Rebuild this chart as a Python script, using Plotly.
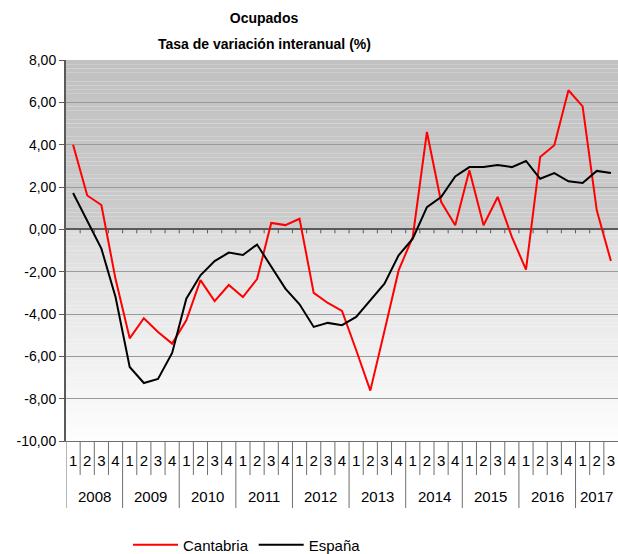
import numpy as np
import plotly.graph_objects as go

years = ["2008", "2009", "2010", "2011", "2012", "2013", "2014", "2015", "2016", "2017"]
quarters_per_year = [4, 4, 4, 4, 4, 4, 4, 4, 4, 3]
quarter_labels = [str(q + 1) for n in quarters_per_year for q in range(n)]

cantabria = [4.0, 1.6, 1.15, -2.35,
             -5.15, -4.2, -4.85, -5.4,
             -4.3, -2.4, -3.39, -2.63,
             -3.2, -2.35, 0.3, 0.2,
             0.5, -3.0, -3.48, -3.85,
             -5.7, -7.62, -4.8, -1.94,
             -0.36, 4.6, 1.3, 0.19,
             2.79, 0.19, 1.53, -0.36,
             -1.9, 3.42, 3.97, 6.57,
             5.81, 0.9, -1.5]
espana = [1.72, 0.4, -0.91, -3.2,
          -6.5, -7.26, -7.07, -5.84,
          -3.28, -2.17, -1.5, -1.1,
          -1.21, -0.72, -1.75, -2.8,
          -3.54, -4.61, -4.42, -4.53,
          -4.14, -3.35, -2.57, -1.23,
          -0.44, 1.05, 1.53, 2.5,
          2.94, 2.94, 3.04, 2.94,
          3.23, 2.39, 2.66, 2.27,
          2.19, 2.76, 2.66]

y_ticks = [-10, -8, -6, -4, -2, 0, 2, 4, 6, 8]
y_tick_text = [f"{v:.2f}".replace(".", ",") for v in y_ticks]

n = len(quarter_labels)
x = list(range(n))
ymin, ymax = -10, 8

AX = "#5a5a5a"
FONT = "Liberation Sans, Arial, sans-serif"

W, H = 618, 554
ML, MT, MB = 66, 60, 113
plot_h = H - MT - MB
plot_w = W - ML

fig = go.Figure()
fig.add_trace(go.Scatter(x=x, y=cantabria, mode="lines", name="Cantabria",
                         line=dict(color="#ff0000", width=2)))
fig.add_trace(go.Scatter(x=x, y=espana, mode="lines", name="España",
                         line=dict(color="#000000", width=2)))

shapes = []


def grey(v):
    v = int(round(v))
    return f"rgb({v},{v},{v})"


nb = 40
edges = np.linspace(0, ymax, nb + 1)
for i in range(nb):
    t = i / (nb - 1)
    c = 204 - (204 - 193) * t
    shapes.append(dict(type="rect", xref="paper", yref="y", x0=0, x1=1,
                       y0=edges[i], y1=edges[i + 1], fillcolor=grey(c),
                       line=dict(width=0), layer="below"))
nb2 = 50
edges2 = np.linspace(ymin, 0, nb2 + 1)
for i in range(nb2):
    t = i / (nb2 - 1)
    c = 253 - (253 - 220) * t
    shapes.append(dict(type="rect", xref="paper", yref="y", x0=0, x1=1,
                       y0=edges2[i], y1=edges2[i + 1], fillcolor=grey(c),
                       line=dict(width=0), layer="below"))

year_starts = set(np.cumsum([0] + quarters_per_year[:-1]).tolist())
for b in range(n):
    is_year = b in year_starts
    shapes.append(dict(type="line", xref="x", yref="paper", ysizemode="pixel",
                       yanchor=0, x0=b - 0.5, x1=b - 0.5, y0=0,
                       y1=-67 if is_year else -34,
                       line=dict(color="#6e6e6e", width=1)))
    if b > 0:
        shapes.append(dict(type="line", xref="x", yref="y", ysizemode="pixel",
                           yanchor=0, x0=b - 0.5, x1=b - 0.5, y0=0, y1=-4,
                           line=dict(color=AX, width=1)))

annotations = []
starts = np.cumsum([0] + quarters_per_year[:-1])
for yr, s, k in zip(years, starts, quarters_per_year):
    annotations.append(dict(x=s + (k - 1) / 2, y=-55 / plot_h, xref="x", yref="paper",
                            text=yr, showarrow=False,
                            font=dict(size=15, color="#000", family=FONT),
                            yanchor="middle"))

annotations.append(dict(text="<b>Tasa de variación interanual (%)</b>",
                        xref="paper", yref="paper",
                        x=(264 - ML) / plot_w, y=1 + (MT - 44) / plot_h,
                        showarrow=False, xanchor="center", yanchor="middle",
                        font=dict(size=14, color="#000", family=FONT)))

fig.update_layout(
    width=W, height=H,
    margin=dict(l=ML, r=0, t=MT, b=MB, pad=0, autoexpand=False),
    paper_bgcolor="white",
    plot_bgcolor="white",
    font=dict(family=FONT, color="#000"),
    title=dict(text="<b>Ocupados</b>", x=264 / W, xanchor="center",
               y=1 - 18 / H, yanchor="middle", yref="container",
               font=dict(size=14, color="#000", family=FONT)),
    shapes=shapes,
    annotations=annotations,
    showlegend=True,
    legend=dict(orientation="h", x=(128 - ML) / plot_w, xanchor="left",
                yref="container", y=1 - 545 / H, yanchor="middle",
                font=dict(size=15, color="#000", family=FONT),
                bgcolor="rgba(0,0,0,0)", itemwidth=45, tracegroupgap=0),
    xaxis=dict(range=[-0.5, n - 0.5], tickmode="array", tickvals=x,
               ticktext=quarter_labels, showgrid=False, zeroline=False,
               ticks="outside", ticklen=6, tickcolor="rgba(0,0,0,0)",
               tickfont=dict(size=15, color="#000", family=FONT),
               showline=True, linecolor="#6e6e6e", linewidth=1, fixedrange=True),
    yaxis=dict(range=[ymin, ymax], tickmode="array", tickvals=y_ticks,
               ticktext=y_tick_text, showgrid=True, gridcolor="#9a9a9a",
               gridwidth=1, zeroline=True, zerolinecolor=AX, zerolinewidth=1.5,
               showline=True, linecolor=AX, linewidth=2, ticks="outside",
               ticklen=5, tickcolor=AX,
               tickfont=dict(size=14, color="#000", family=FONT),
               fixedrange=True),
)

fig.write_html(
    "out.html",
    config={"displayModeBar": False},
    post_script="document.body.style.margin='0';document.body.style.overflow='hidden';",
)
